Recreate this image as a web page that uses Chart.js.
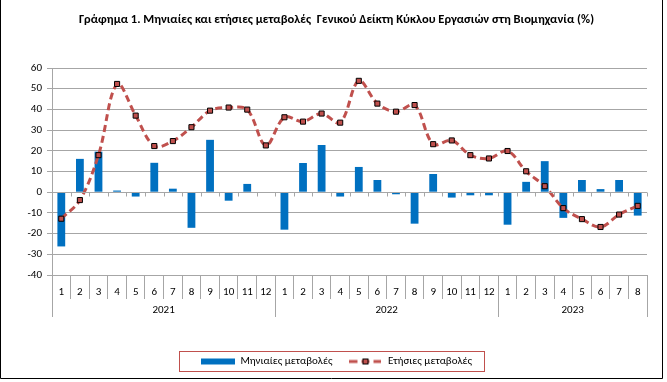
<!DOCTYPE html>
<html>
<head>
<meta charset="utf-8">
<script src="https://cdn.jsdelivr.net/npm/chart.js@4"></script>
<style>
html, body { margin: 0; padding: 0; background: #fff; }
#wrap { width: 667px; height: 382px; }
</style>
</head>
<body>
<div id="wrap"><canvas id="chart"></canvas></div>
<script>
const monthLabels = ['1','2','3','4','5','6','7','8','9','10','11','12',
                     '1','2','3','4','5','6','7','8','9','10','11','12',
                     '1','2','3','4','5','6','7','8'];
const years = ['2021', '2022', '2023'];
const yearLengths = [12, 12, 8];
const monthly = [-26.2, 16.1, 19.6, 0.8, -2.1, 14.2, 1.7, -17.2, 25.3, -4.1, 4.0, -0.4,
                 -18.1, 14.1, 22.8, -2.1, 12.2, 5.9, -1.0, -15.2, 8.8, -2.6, -1.5, -1.5,
                 -15.7, 5.0, 15.0, -12.4, 5.9, 1.5, 5.9, -11.3];
const annual = [-12.8, -3.8, 17.9, 52.3, 37.0, 22.3, 24.7, 31.4, 39.4, 40.9, 39.9, 22.6,
                36.2, 34.1, 38.0, 33.6, 53.8, 42.8, 38.9, 42.1, 23.2, 25.0, 17.9, 16.3,
                19.9, 10.1, 2.9, -7.7, -13.0, -16.8, -10.8, -6.6];
const yMin = -40, yMax = 60, yStep = 10;

const FONT = "Carlito, 'Liberation Sans Narrow', Calibri, 'Liberation Sans', sans-serif";
const BLUE = '#0070C0';
const RED = '#C0504D';
const GRID = '#a6a6a6';

// legend symbols
function barSymbol() {
    const c = document.createElement('canvas');
    c.width = 34; c.height = 8;
    const g = c.getContext('2d');
    g.fillStyle = BLUE;
    g.fillRect(0, 1, 34, 6);
    return c;
}
function lineSymbol() {
    const c = document.createElement('canvas');
    c.width = 32; c.height = 8;
    const g = c.getContext('2d');
    g.strokeStyle = RED;
    g.lineWidth = 3;
    g.setLineDash([8, 4]);
    g.beginPath();
    g.moveTo(0, 4); g.lineTo(32, 4);
    g.stroke();
    g.setLineDash([]);
    g.fillStyle = RED;
    g.fillRect(13.5, 1.5, 5, 5);
    g.strokeStyle = '#000';
    g.lineWidth = 1;
    g.strokeRect(13.5, 1.5, 5, 5);
    return c;
}
const symbols = [barSymbol(), lineSymbol()];

const extras = {
    id: 'extras',
    beforeDraw(chart) {
        const ctx = chart.ctx;
        ctx.save();
        ctx.fillStyle = '#fff';
        ctx.fillRect(0, 0, chart.width, chart.height);
        ctx.restore();
    },
    afterDraw(chart) {
        const ctx = chart.ctx;
        const x = chart.scales.x, y = chart.scales.y;
        const area = chart.chartArea;
        const step = x.getPixelForValue(1) - x.getPixelForValue(0);
        ctx.save();

        // small ticks on the zero line
        const y0 = Math.round(y.getPixelForValue(0)) + 0.5;
        ctx.strokeStyle = GRID;
        ctx.lineWidth = 1;
        ctx.beginPath();
        ctx.moveTo(area.left, y0); ctx.lineTo(area.right, y0);
        for (let i = 0; i <= monthLabels.length; i++) {
            const px = Math.round(x.getPixelForValue(0) - step / 2 + i * step) + 0.5;
            ctx.moveTo(px, y0); ctx.lineTo(px, y0 + 4);
        }
        ctx.stroke();

        // year separators and labels
        let start = 0;
        ctx.fillStyle = '#000';
        ctx.font = '11px ' + FONT;
        ctx.textAlign = 'center';
        ctx.textBaseline = 'middle';
        ctx.beginPath();
        for (let k = 0; k <= years.length; k++) {
            const px = Math.round(x.getPixelForValue(0) - step / 2 + start * step) + 0.5;
            ctx.moveTo(px, area.bottom); ctx.lineTo(px, area.bottom + 42);
            if (k < years.length) {
                const mid = x.getPixelForValue(0) - step / 2 + (start + yearLengths[k] / 2) * step;
                ctx.fillText(years[k], mid, area.bottom + 35);
                start += yearLengths[k];
            }
        }
        ctx.stroke();

        // legend border
        const boxes = chart.legend.legendHitBoxes;
        if (boxes && boxes.length) {
            const first = boxes[0], last = boxes[boxes.length - 1];
            const cy = first.top + first.height / 2;
            const left = Math.round(first.left) - 21.5;
            const right = Math.round(last.left + last.width) + 12.5;
            ctx.strokeStyle = RED;
            ctx.strokeRect(left, Math.round(cy) - 10.5, right - left, 20);
        }

        // outer frame
        ctx.strokeStyle = '#000';
        ctx.beginPath();
        ctx.moveTo(0.5, 0); ctx.lineTo(0.5, 378.5);
        ctx.lineTo(662.5, 378.5); ctx.lineTo(662.5, 0);
        ctx.stroke();
        ctx.restore();
    }
};

const ctx = document.getElementById('chart').getContext('2d');
new Chart(ctx, {
    data: {
        labels: monthLabels,
        datasets: [{
            type: 'bar',
            label: 'Μηνιαίες μεταβολές',
            data: monthly,
            backgroundColor: BLUE,
            borderWidth: 0,
            barPercentage: 0.42,
            categoryPercentage: 1,
            order: 2
        }, {
            type: 'line',
            label: 'Ετήσιες μεταβολές',
            data: annual,
            borderColor: RED,
            borderWidth: 3,
            borderDash: [7, 4],
            tension: 0.35,
            pointStyle: 'rect',
            pointRadius: 3.6,
            pointBackgroundColor: RED,
            pointBorderColor: '#000',
            pointBorderWidth: 1,
            order: 1
        }]
    },
    plugins: [extras],
    options: {
        responsive: true,
        maintainAspectRatio: false,
        animation: false,
        devicePixelRatio: 1,
        layout: { padding: { left: 26, right: 20, top: 0, bottom: 5 } },
        plugins: {
            tooltip: { enabled: false },
            title: {
                display: true,
                text: 'Γράφημα 1. Μηνιαίες και ετήσιες μεταβολές  Γενικού Δείκτη Κύκλου Εργασιών στη Βιομηχανία (%)',
                color: '#000',
                font: { family: FONT, size: 12.5, weight: 'bold' },
                padding: { top: 12, bottom: 41 }
            },
            legend: {
                position: 'bottom',
                labels: {
                    usePointStyle: true,
                    pointStyleWidth: 34,
                    color: '#000',
                    font: { family: FONT, size: 11 },
                    padding: 16,
                    generateLabels(chart) {
                        const items = Chart.defaults.plugins.legend.labels.generateLabels(chart);
                        items.sort((a, b) => a.datasetIndex - b.datasetIndex);
                        items.forEach(item => { item.pointStyle = symbols[item.datasetIndex]; });
                        return items;
                    }
                }
            }
        },
        scales: {
            x: {
                grid: { offset: true, drawOnChartArea: false, color: GRID, tickLength: 24 },
                border: { display: false },
                ticks: { color: '#000', font: { family: FONT, size: 11 }, padding: -13, maxRotation: 0, autoSkip: false },
                afterFit(scale) { scale.height = 65; }
            },
            y: {
                min: yMin,
                max: yMax,
                ticks: { stepSize: yStep, color: '#000', font: { family: FONT, size: 11 }, padding: 5 },
                grid: { color: GRID, tickLength: 5 },
                border: { color: GRID },
                afterFit(scale) { scale.width = 26; }
            }
        }
    }
});
</script>
</body>
</html>
